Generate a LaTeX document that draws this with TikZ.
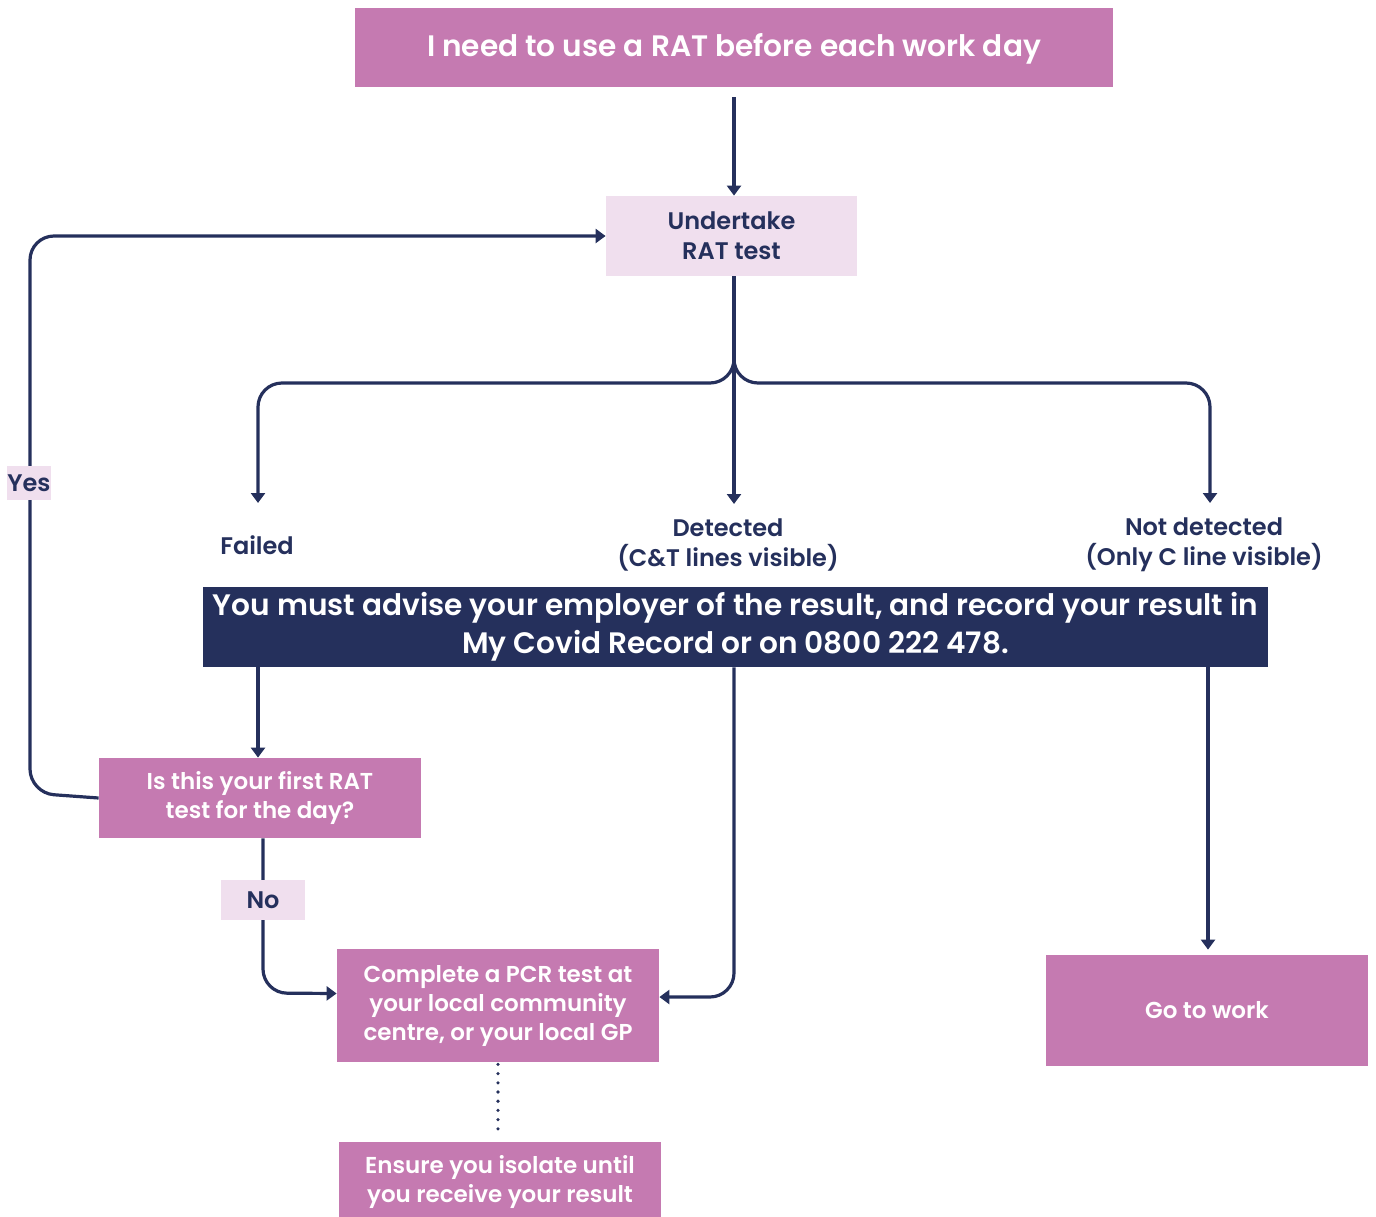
\documentclass[tikz,border=0pt]{standalone}
\usepackage{fontspec}
\setmainfont{Poppins}[BoldFont={Poppins SemiBold}]
\usetikzlibrary{arrows,arrows.meta,calc,positioning}
\definecolor{rosa}{HTML}{C57AB1}
\definecolor{blush}{HTML}{F0DFEE}
\definecolor{navy}{HTML}{25305C}
\tikzset{>=latex}
\tikzstyle{pinkbox}=[rectangle,fill=rosa,text=white,inner sep=0pt,align=center,font=\bfseries\fontsize{11.5}{14.5}\selectfont]
\tikzstyle{lightbox}=[rectangle,fill=blush,text=navy,inner sep=0pt,align=center,font=\bfseries\fontsize{12}{15}\selectfont]
\tikzstyle{banner}=[rectangle,fill=navy,text=white,inner sep=0pt,align=center,font=\bfseries\fontsize{14.8}{19}\selectfont]
\tikzstyle{outcome}=[inner sep=0pt,text=navy,align=center,font=\bfseries\fontsize{12}{15}\selectfont]
\tikzstyle{flow}=[-{Triangle[width=7pt,length=5pt]},draw=navy,line width=1.6pt,rounded corners=12pt]

\begin{document}
\begin{tikzpicture}[x=0.5pt,y=-0.5pt]
\def \boxw {161pt};
\def \boxh {40pt};
\def \turn {383};

\useasboundingbox (0,0) rectangle (1376,1216);

\node[pinkbox,minimum width=379pt,minimum height=39.5pt,text height=11pt,text depth=2.5pt,font=\bfseries\fontsize{14.8}{17}\selectfont] (start)
	at (734,47.5) {I need to use a RAT before each work day};
\node[lightbox,minimum width=125.5pt,minimum height=\boxh] (rat)
	at (731.5,236) {Undertake\\RAT test};

\node[outcome] (failed) at (257,545) {Failed};
\node[outcome] (detected) at (728,545) {Detected\\(C\&T lines visible)};
\node[outcome] (notdet) at (1204,545) {Not detected\\(Only C line visible)};

\node[banner,minimum width=532.5pt,minimum height=\boxh] (advise)
	at (735.5,627) {You must advise your employer of the result, and record your result in\\My Covid Record or on 0800 222 478.};

\node[pinkbox,minimum width=\boxw,minimum height=\boxh] (first)
	at (260,798) {Is this your first RAT\\test for the day?};
\node[pinkbox,minimum width=\boxw,minimum height=56.5pt] (pcr)
	at (498,1005.5) {Complete a PCR test at\\your local community\\centre, or your local GP};
\node[pinkbox,minimum width=\boxw,minimum height=55.5pt] (work)
	at (1207,1010.5) {Go to work};
\node[pinkbox,minimum width=\boxw,minimum height=40pt] (isolate)
	at (500,1182) {Ensure you isolate until\\you receive your result};

\coordinate (failtip) at (258,503);
\coordinate (dettip) at (734,504);
\coordinate (ndtip) at (1210,503);

% arrows
\draw[flow,shorten <=5pt] (start.south -| dettip) -- (rat.north -| dettip);
\draw[flow] (rat.south -| dettip) -- (734,\turn) -- (258,\turn) -- (failtip);
\draw[flow] (rat.south -| dettip) -- (dettip);
\draw[flow] (rat.south -| dettip) -- (734,\turn) -- (1210,\turn) -- (ndtip);

\draw[flow] (advise.south -| failtip) -- (first.north -| failtip);
\draw[flow] (first.west) -- (30,793) -- (30,236) -- (rat.west);
\draw[flow] (first.south -| 263,0) -- (263,993) -- ([yshift=6pt]pcr.west);
\draw[flow] (advise.south -| dettip) -- (734,997) -- ([yshift=4.25pt]pcr.east);
\draw[flow,shorten >=2.5pt] (advise.south -| 1208,0) -- (work.north -| 1208,0);
\draw[draw=navy,line width=1.8pt,line cap=round,dash pattern=on 0pt off 4.6pt,shorten <=1pt,shorten >=6pt] (pcr.south) -- (isolate.north -| pcr.south);

\node[lightbox,minimum width=21pt,minimum height=17pt] (yes) at (29,483) {Yes};
\node[lightbox,minimum width=42pt,minimum height=20pt] (no) at (263,900) {No};

\end{tikzpicture}
\end{document}
